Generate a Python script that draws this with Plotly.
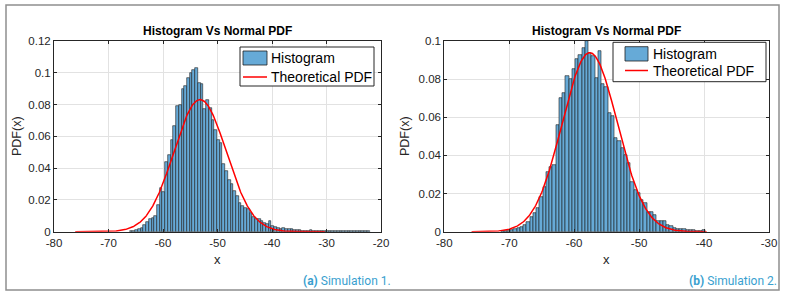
import numpy as np
import plotly.graph_objects as go

W, H = 785, 296

# ---------------- data ----------------
bin_width = 0.5

# Simulation 1 (left): histogram densities, first bin starts at left_bin_start
left_bin_start = -66.1
left_density = [
    0.0004, 0.0006, 0.0009, 0.0014, 0.0022, 0.0040, 0.0060, 0.0078, 0.0088, 0.0098,
    0.0165, 0.0272, 0.0250, 0.0440, 0.0480, 0.0577, 0.0665, 0.0790, 0.0800, 0.0900,
    0.0920, 0.0970, 0.1000, 0.1020, 0.1030, 0.0935, 0.0930, 0.0770, 0.0828, 0.0780,
    0.0705, 0.0640, 0.0580, 0.0557, 0.0425, 0.0380, 0.0328, 0.0300, 0.0255, 0.0222,
    0.0180, 0.0162, 0.0150, 0.0140, 0.0120, 0.0090, 0.0080, 0.0077, 0.0067, 0.0057,
    0.0047, 0.0070, 0.0036, 0.0030, 0.0024, 0.0020, 0.0022, 0.0016, 0.0019, 0.0018,
    0.0012, 0.0011, 0.0009, 0.0007, 0.0007, 0.0005, 0.0009, 0.0006, 0.0004, 0.0003,
    0.0002, 0.0002, 0.0002, 0.0002, 0.0002, 0.0002, 0.0002, 0.0002, 0.0002, 0.0002,
    0.0002, 0.0002, 0.0002, 0.0002, 0.0002, 0.0002, 0.0002, 0.0002,
]
left_mu, left_sigma = -53.2, 4.8
left_pdf_from, left_pdf_to = -76.1, -30.3

# Simulation 2 (right)
right_bin_start = -71.3
right_density = [
    0.0002, 0.0004, 0.0006, 0.0009, 0.0012, 0.0018, 0.0027, 0.0036, 0.0053, 0.0079,
    0.0100, 0.0122, 0.0184, 0.0237, 0.0315, 0.0340, 0.0350, 0.0560,
    0.0699, 0.0725, 0.0815, 0.0800, 0.0855, 0.0905, 0.0925, 0.0965, 0.1002,
    0.0935, 0.0920, 0.0805, 0.0950, 0.0775, 0.0760, 0.0620, 0.0605, 0.0490, 0.0478,
    0.0440, 0.0400, 0.0358, 0.0262, 0.0219, 0.0201, 0.0166, 0.0152, 0.0105, 0.0104,
    0.0087, 0.0056, 0.0057, 0.0055, 0.0035, 0.0032, 0.0017, 0.0014, 0.0013, 0.0012,
    0.0010, 0.0009, 0.0007, 0.0006, 0.0006, 0.0011,
]
right_mu, right_sigma = -57.6, 4.25
right_pdf_from, right_pdf_to = -75.8, -39.6

left_xticks = [-80, -70, -60, -50, -40, -30, -20]
left_xlabels = ["-80", "-70", "-60", "-50", "-40", "-30", "-20"]
right_xticks = [-80, -70, -60, -50, -40, -30]
right_xlabels = ["-80", "-70", "-60", "-50", "-40", "-30"]
left_yticks = [0, 0.02, 0.04, 0.06, 0.08, 0.1, 0.12]
left_ylabels = ["0", "0.02", "0.04", "0.06", "0.08", "0.1", "0.12"]
right_yticks = [0, 0.02, 0.04, 0.06, 0.08, 0.1]
right_ylabels = ["0", "0.02", "0.04", "0.06", "0.08", "0.1"]

title_text = "Histogram Vs Normal PDF"
legend_labels = ["Histogram", "Theoretical PDF"]
captions = [("(a)", "Simulation 1."), ("(b)", "Simulation 2.")]

# ---------------- styles ----------------
BAR_FILL = "#66aad7"
BAR_EDGE = "#1e1e1e"
AX = "#262626"
GRID = "#e2e2e2"
FONT = "Liberation Sans, Arial, sans-serif"
CAP = "#3a9fcf"


def px(x):
    return x / W


def py(y):
    return 1 - y / H


def centers(start, n):
    return start + bin_width * (np.arange(n) + 0.5)


def normpdf(x, mu, s):
    return np.exp(-0.5 * ((x - mu) / s) ** 2) / (s * np.sqrt(2 * np.pi))


fig = go.Figure()

panels = [
    dict(dens=left_density, start=left_bin_start, mu=left_mu, sg=left_sigma,
         pf=left_pdf_from, pt=left_pdf_to, xa="x", ya="y"),
    dict(dens=right_density, start=right_bin_start, mu=right_mu, sg=right_sigma,
         pf=right_pdf_from, pt=right_pdf_to, xa="x2", ya="y2"),
]
for p in panels:
    c = centers(p["start"], len(p["dens"]))
    fig.add_trace(go.Bar(x=c, y=p["dens"], width=bin_width, xaxis=p["xa"], yaxis=p["ya"],
                         marker=dict(color=BAR_FILL, line=dict(color=BAR_EDGE, width=0.6)),
                         showlegend=False, hoverinfo="skip"))
    xs = np.linspace(p["pf"], p["pt"], 400)
    fig.add_trace(go.Scatter(x=xs, y=normpdf(xs, p["mu"], p["sg"]), mode="lines",
                             xaxis=p["xa"], yaxis=p["ya"],
                             line=dict(color="#ff0000", width=1.5),
                             showlegend=False, hoverinfo="skip"))

# axes geometry in pixels
ax_top, ax_bot = 41, 231.7
L = (54, 381)
R = (444.3, 769)


def axis_common():
    return dict(ticks="inside", ticklen=3, tickcolor=AX, showline=True, linecolor=AX,
                linewidth=1, mirror="allticks", showgrid=True, gridcolor=GRID, gridwidth=1,
                zeroline=False, automargin=False,
                tickfont=dict(family=FONT, size=11.5, color=AX))


fig.update_layout(
    width=W, height=H, margin=dict(l=0, r=0, t=0, b=0, pad=0, autoexpand=False),
    paper_bgcolor="white", plot_bgcolor="white", showlegend=False,
    barmode="overlay", bargap=0,
    xaxis=dict(domain=[px(L[0]), px(L[1])], range=[-80, -20], tickvals=left_xticks,
               ticktext=left_xlabels, anchor="y", **axis_common()),
    yaxis=dict(domain=[py(ax_bot), py(ax_top)], range=[0, 0.12], tickvals=left_yticks,
               ticktext=left_ylabels, anchor="x", **axis_common()),
    xaxis2=dict(domain=[px(R[0]), px(R[1])], range=[-80, -30], tickvals=right_xticks,
                ticktext=right_xlabels, anchor="y2", **axis_common()),
    yaxis2=dict(domain=[py(ax_bot), py(ax_top)], range=[0, 0.1], tickvals=right_yticks,
                ticktext=right_ylabels, anchor="x2", **axis_common()),
)

shapes = []
ann = []

# outer frame
shapes.append(dict(type="rect", xref="paper", yref="paper", x0=px(6), x1=px(779),
                   y0=py(290), y1=py(5), line=dict(color="#8f8f8f", width=1.5)))

for (x0, x1), cap, ylab_x in [(L, captions[0], 17), (R, captions[1], 405)]:
    cx = (x0 + x1) / 2
    ann.append(dict(text="<b>" + title_text + "</b>", x=px(cx), y=py(31), xref="paper",
                    yref="paper", showarrow=False, xanchor="center", yanchor="middle",
                    font=dict(family=FONT, size=12, color="#000000")))
    ann.append(dict(text="x", x=px(cx), y=py(259), xref="paper", yref="paper",
                    showarrow=False, xanchor="center", yanchor="middle",
                    font=dict(family=FONT, size=13, color=AX)))
    ann.append(dict(text="PDF(x)", x=px(ylab_x), y=py(136), xref="paper", yref="paper",
                    showarrow=False, xanchor="center", yanchor="middle", textangle=-90,
                    font=dict(family=FONT, size=12.5, color=AX)))

# captions
ann.append(dict(text="<b>" + captions[0][0] + "</b> " + captions[0][1], x=px(393), y=py(281),
                xref="paper", yref="paper", showarrow=False, xanchor="right",
                yanchor="middle", font=dict(family="Roboto, sans-serif", size=12, color=CAP)))
ann.append(dict(text="<b>" + captions[1][0] + "</b> " + captions[1][1], x=px(779), y=py(281),
                xref="paper", yref="paper", showarrow=False, xanchor="right",
                yanchor="middle", font=dict(family="Roboto, sans-serif", size=12, color=CAP)))

# legends (drawn manually, MATLAB style)
for box, patch, line_y, text_x, y1, y2 in [
    ((240, 374, 47, 86), (243, 267, 51, 65), 77, 269, 58, 77),
    ((613, 766, 42.3, 81.7), (625, 648, 46.7, 61), 70.5, 650.7, 54, 71),
]:
    shapes.append(dict(type="rect", xref="paper", yref="paper", x0=px(box[0]), x1=px(box[1]),
                       y0=py(box[3]), y1=py(box[2]), line=dict(color=AX, width=1),
                       fillcolor="white"))
    shapes.append(dict(type="rect", xref="paper", yref="paper", x0=px(patch[0]),
                       x1=px(patch[1]), y0=py(patch[3]), y1=py(patch[2]),
                       line=dict(color=BAR_EDGE, width=0.8), fillcolor=BAR_FILL))
    shapes.append(dict(type="line", xref="paper", yref="paper", x0=px(patch[0]),
                       x1=px(patch[1]), y0=py(line_y), y1=py(line_y),
                       line=dict(color="#ff0000", width=1.5)))
    ann.append(dict(text=legend_labels[0], x=px(text_x), y=py(y1), xref="paper",
                    yref="paper", showarrow=False, xanchor="left", yanchor="middle",
                    font=dict(family=FONT, size=14, color="#000000")))
    ann.append(dict(text=legend_labels[1], x=px(text_x), y=py(y2), xref="paper",
                    yref="paper", showarrow=False, xanchor="left", yanchor="middle",
                    font=dict(family=FONT, size=14, color="#000000")))

fig.update_layout(shapes=shapes, annotations=ann)
fig.write_html("out.html", config={"displayModeBar": False},
               post_script="document.body.style.margin='0';document.body.style.overflow='hidden';")
